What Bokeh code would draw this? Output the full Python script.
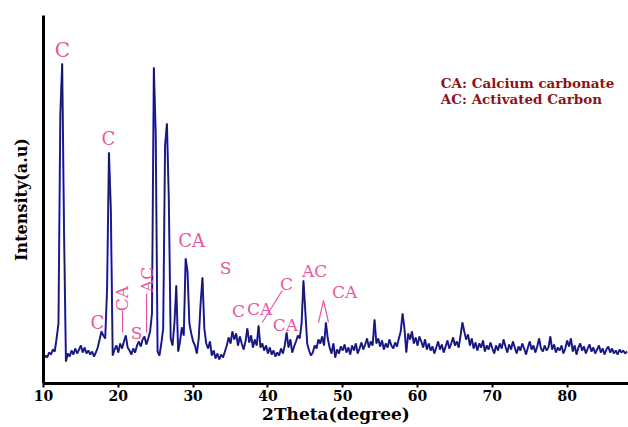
import numpy as np
from bokeh.plotting import figure
from bokeh.models import Range1d, FixedTicker, Label, ColumnDataSource
from bokeh.embed import file_html
from bokeh.resources import INLINE

# ---- data: XRD pattern, 2theta from 10 to 88 deg in 0.25 deg steps ----
theta_start = 10.0
theta_step = 0.25
intensity = [
    24, 28, 26, 31,      # 10
    29, 34, 32, 45,      # 11
    60, 270, 320, 150,   # 12
    22, 30, 27, 33,      # 13
    29, 35, 30, 34,      # 14
    38, 31, 36, 30,      # 15
    33, 29, 32, 27,      # 16
    31, 36, 44, 52,      # 17
    48, 45, 95, 231,     # 18
    175, 28, 34, 38,     # 19
    31, 40, 35, 42,      # 20
    48, 36, 33, 29,      # 21
    35, 31, 38, 42,      # 22
    37, 44, 47, 39,      # 23
    45, 52, 70, 316,     # 24
    250, 32, 28, 40,     # 25
    55, 238, 260, 185,   # 26
    45, 38, 60, 98,      # 27
    32, 42, 56, 48,      # 28
    125, 112, 60, 50,    # 29
    42, 38, 30, 45,      # 30
    80, 106, 55, 40,     # 31
    35, 42, 28, 33,      # 32
    25, 30, 24, 29,      # 33
    26, 32, 38, 46,      # 34
    40, 52, 44, 50,      # 35
    38, 47, 40, 34,      # 36
    42, 55, 41, 48,      # 37
    36, 44, 38, 58,      # 38
    36, 40, 33, 38,      # 39
    30, 36, 29, 33,      # 40
    27, 31, 28, 35,      # 41
    30, 38, 51, 36,      # 42
    44, 31, 37, 42,      # 43
    48, 45, 60, 103,     # 44
    72, 40, 33, 28,      # 45
    31, 38, 35, 44,      # 46
    40, 47, 38, 61,      # 47
    45, 36, 30, 40,      # 48
    26, 34, 30, 37,      # 49
    33, 39, 31, 36,      # 50
    29, 38, 33, 40,      # 51
    30, 35, 41, 34,      # 52
    39, 45, 36, 42,      # 53
    38, 64, 40, 45,      # 54
    37, 43, 34, 40,      # 55
    36, 44, 38, 35,      # 56
    41, 37, 45, 52,      # 57
    70, 55, 31, 50,      # 58
    44, 52, 40, 46,      # 59
    38, 47, 42, 36,      # 60
    44, 34, 40, 33,      # 61
    37, 30, 36, 42,      # 62
    34, 39, 31, 37,      # 63
    43, 35, 40, 46,      # 64
    38, 42, 36, 48,      # 65
    61, 52, 44, 49,      # 66
    38, 45, 35, 41,      # 67
    33, 40, 36, 43,      # 68
    32, 38, 34, 41,      # 69
    35, 30, 38, 33,      # 70
    40, 35, 44, 37,      # 71
    31, 39, 34, 42,      # 72
    36, 30, 37, 33,      # 73
    40, 35, 29, 36,      # 74
    42, 34, 38, 31,      # 75
    37, 45, 35, 32,      # 76
    38, 33, 36, 47,      # 77
    34, 39, 31, 36,      # 78
    33, 38, 30, 35,      # 79
    43, 37, 45, 32,      # 80
    38, 29, 36, 40,      # 81
    33, 37, 30, 35,      # 82
    39, 32, 36, 30,      # 83
    34, 38, 31, 35,      # 84
    29, 34, 37, 31,      # 85
    35, 30, 33, 29,      # 86
    34, 31, 33, 30,      # 87
    32,                  # 88
]
two_theta = [theta_start + i * theta_step for i in range(len(intensity))]

x_ticks = [10, 20, 30, 40, 50, 60, 70, 80]
x_tick_labels = ["10", "20", "30", "40", "50", "60", "70", "80"]

# phase labels: text, 2theta, intensity, angle(deg), size
peak_text = ["C", "C", "C", "CA", "S", "AC", "CA", "S", "C", "CA", "C", "CA", "AC", "CA"]
peak_x = [12.54, 18.69, 17.2, 20.56, 22.43, 23.77, 29.79, 34.33, 36.07, 38.88, 42.49, 42.35, 46.23, 50.24]
peak_y = [334, 245, 61, 85, 51, 104, 143, 116, 73, 75, 100, 59, 113, 92]
peak_angle = [0, 0, 0, 90, 0, 90, 0, 0, 0, 0, 0, 0, 0, 0]
peak_size = [20, 18, 18, 17, 17, 17, 18, 17, 17, 17, 17, 17, 17, 17]

# leader lines
lead_x0 = [20.56, 23.77, 41.91, 46.76, 47.43]
lead_y0 = [73, 90, 93, 61, 83]
lead_x1 = [20.56, 23.77, 39.24, 47.43, 48.10]
lead_y1 = [51, 51, 61, 83, 61]

legend_lines = ["CA: Calcium carbonate", "AC: Activated Carbon"]
legend_x = 63.1
legend_y = [301, 285]

x_label = "2Theta(degree)"
y_label = "Intensity(a.u)"

p = figure(width=628, height=427, output_backend="svg", toolbar_location=None,
           x_range=Range1d(10, 88.2), y_range=Range1d(0, 368),
           min_border_left=43, min_border_right=0, min_border_top=15, min_border_bottom=44)
p.background_fill_color = "white"
p.border_fill_color = "white"
p.outline_line_color = None
p.xgrid.visible = False
p.ygrid.visible = False

src = ColumnDataSource(dict(x=two_theta, y=intensity))
p.line("x", "y", source=src, line_color="#2a2ab8", line_width=2.0)
p.line("x", "y", source=src, line_color="#0c0c3a", line_width=0.9, line_alpha=0.75)

# axes
p.xaxis.ticker = FixedTicker(ticks=x_ticks)
p.xaxis.major_label_overrides = {t: l for t, l in zip(x_ticks, x_tick_labels)}
p.xaxis.axis_line_width = 3
p.xaxis.axis_line_color = "black"
p.xaxis.major_tick_out = 4
p.xaxis.major_tick_in = 0
p.xaxis.major_tick_line_width = 2
p.xaxis.minor_tick_out = 0
p.xaxis.minor_tick_in = 0
p.xaxis.major_label_standoff = 2
p.xaxis.major_label_text_font = "DejaVu Serif"
p.xaxis.major_label_text_font_style = "bold"
p.xaxis.major_label_text_font_size = "14px"
p.xaxis.major_label_text_color = "black"
p.xaxis.axis_label = x_label
p.xaxis.axis_label_standoff = 0
p.xaxis.axis_label_text_font = "DejaVu Serif"
p.xaxis.axis_label_text_font_style = "bold"
p.xaxis.axis_label_text_font_size = "17px"
p.xaxis.axis_label_text_color = "black"

p.yaxis.ticker = FixedTicker(ticks=[])
p.yaxis.axis_line_width = 3
p.yaxis.axis_line_color = "black"
p.yaxis.major_tick_out = 0
p.yaxis.minor_tick_out = 0
p.yaxis.major_tick_in = 0
p.yaxis.minor_tick_in = 0
p.yaxis.major_label_standoff = 0
p.yaxis.axis_label = y_label
p.yaxis.axis_label_standoff = 13
p.yaxis.axis_label_text_font = "DejaVu Serif"
p.yaxis.axis_label_text_font_style = "bold"
p.yaxis.axis_label_text_font_size = "16px"
p.yaxis.axis_label_text_color = "black"

pink = "#e8579c"
for t, x, y, a, s in zip(peak_text, peak_x, peak_y, peak_angle, peak_size):
    p.add_layout(Label(x=x, y=y, text=t, angle=a, angle_units="deg",
                       text_align="center", text_baseline="middle",
                       text_font="DejaVu Serif", text_font_size=f"{s}px",
                       text_color=pink))
p.segment(x0=lead_x0, y0=lead_y0, x1=lead_x1, y1=lead_y1, line_color=pink, line_width=1.2)

for t, y in zip(legend_lines, legend_y):
    p.add_layout(Label(x=legend_x, y=y, text=t, text_align="left", text_baseline="middle",
                       text_font="DejaVu Serif", text_font_style="bold",
                       text_font_size="13.5px", text_color="#8b1515"))

open("out.html", "w").write(file_html(p, INLINE))
